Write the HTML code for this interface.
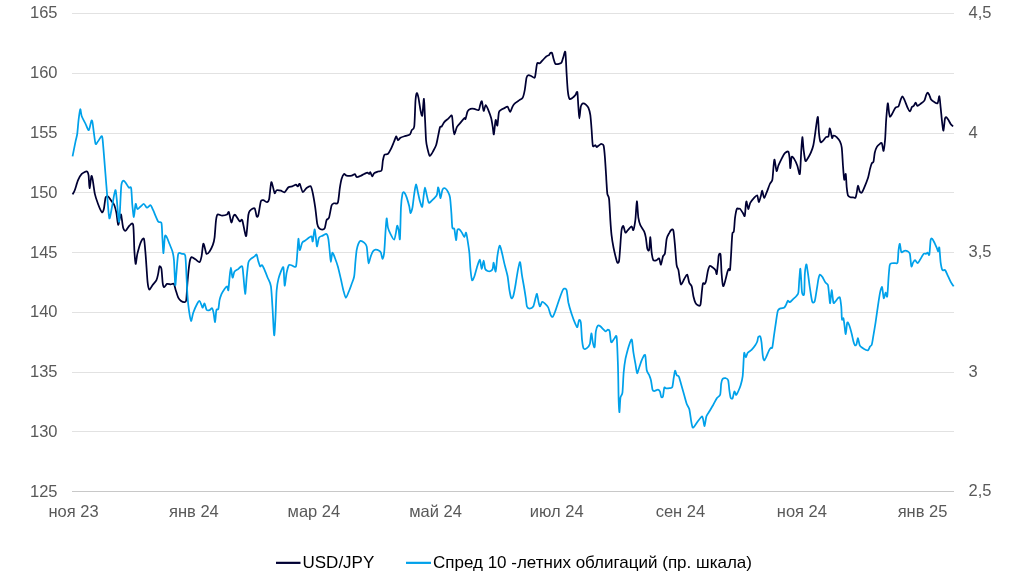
<!DOCTYPE html>
<html><head><meta charset="utf-8">
<style>
html,body{margin:0;padding:0;background:#fff;}
body{width:1024px;height:583px;overflow:hidden;position:relative;font-family:"Liberation Sans",sans-serif;}
svg{position:absolute;left:0;top:0;will-change:transform;}
text{font-family:"Liberation Sans",sans-serif;font-size:16.5px;fill:#595959;}
.lg{fill:#000;font-size:17px;}
</style></head><body>
<svg width="1024" height="583" viewBox="0 0 1024 583">
<g stroke="#e2e2e2" stroke-width="1" shape-rendering="crispEdges">
<line x1="72" x2="954" y1="13.5" y2="13.5"/>
<line x1="72" x2="954" y1="73.5" y2="73.5"/>
<line x1="72" x2="954" y1="133.5" y2="133.5"/>
<line x1="72" x2="954" y1="192.5" y2="192.5"/>
<line x1="72" x2="954" y1="252.5" y2="252.5"/>
<line x1="72" x2="954" y1="312.5" y2="312.5"/>
<line x1="72" x2="954" y1="372.5" y2="372.5"/>
<line x1="72" x2="954" y1="431.5" y2="431.5"/>
</g>
<line x1="72" x2="954" y1="491.5" y2="491.5" stroke="#c8c8c8" stroke-width="1" shape-rendering="crispEdges"/>
<g text-anchor="end">
<text x="57.5" y="18.3">165</text>
<text x="57.5" y="78.1">160</text>
<text x="57.5" y="137.8">155</text>
<text x="57.5" y="197.6">150</text>
<text x="57.5" y="257.5">145</text>
<text x="57.5" y="317.1">140</text>
<text x="57.5" y="376.9">135</text>
<text x="57.5" y="436.6">130</text>
<text x="57.5" y="496.5">125</text>
</g>
<g>
<text x="968.6" y="18">4,5</text>
<text x="968.6" y="137.5">4</text>
<text x="968.6" y="257.2">3,5</text>
<text x="968.6" y="376.6">3</text>
<text x="968.6" y="496.2">2,5</text>
</g>
<g text-anchor="middle">
<text x="73.6" y="517.1">ноя 23</text>
<text x="193.9" y="517.1">янв 24</text>
<text x="313.9" y="517.1">мар 24</text>
<text x="435.6" y="517.1">май 24</text>
<text x="556.75" y="517.1">июл 24</text>
<text x="680.4" y="517.1">сен 24</text>
<text x="801.9" y="517.1">ноя 24</text>
<text x="922.5" y="517.1">янв 25</text>
</g>
<path transform="translate(0.25,0)" fill="none" stroke="#000033" stroke-width="1.75" stroke-linejoin="round" stroke-linecap="butt" d="M72.3,194.4C72.6,193.9 73.8,192.0 74.5,190.2C75.2,188.4 76.9,182.3 77.8,180.2C78.7,178.1 80.4,175.0 81.5,173.9C82.6,172.8 85.6,171.2 86.5,171.4C87.4,171.6 87.9,173.0 88.3,175.2C88.7,177.4 88.9,188.0 89.3,188.2C89.7,188.4 90.7,177.6 91.1,176.4C91.5,175.2 91.8,176.6 92.3,178.9C92.8,181.2 93.9,190.6 94.6,193.9C95.3,197.2 96.9,201.6 97.8,204C98.7,206.4 100.8,211.5 101.6,212.2C102.4,212.8 103.1,210.9 103.6,209C104.1,207.1 104.8,199.3 105.3,197.7C105.8,196.1 107.0,196.0 107.8,196.5C108.6,197.0 110.8,200.4 111.6,201.5C112.4,202.6 113.5,203.7 114.1,205.2C114.7,206.7 115.6,210.2 116.1,212.7C116.6,215.2 117.4,224.2 117.9,224.8C118.4,225.5 119.2,219.0 119.6,217.7C120.0,216.4 120.5,213.4 120.9,214.7C121.3,216.0 122.3,225.7 122.9,227.8C123.5,229.9 124.6,231.1 125.4,230.8C126.2,230.5 128.1,226.6 129.1,225.8C130.1,225.0 132.2,221.6 132.9,224.8C133.6,228.0 133.8,245.0 134.1,250.1C134.4,255.2 135.0,263.4 135.4,263.9C135.8,264.4 136.4,256.7 137.1,253.9C137.8,251.1 139.5,244.6 140.4,242.6C141.3,240.6 143.0,237.2 143.7,238.8C144.3,240.4 144.9,249.4 145.4,255.1C145.9,260.8 146.9,278.2 147.4,282.7C147.9,287.2 148.6,289.4 149.2,289.7C149.8,290.0 151.3,286.4 152.2,285.2C153.1,284.0 155.5,281.7 156.2,280.2C156.9,278.7 157.5,275.7 157.9,273.9C158.3,272.1 158.8,267.0 159.2,266.4C159.6,265.8 160.8,266.8 161.2,268.9C161.6,271.0 162.1,280.3 162.4,282.7C162.7,285.1 163.1,287.0 163.7,287.2C164.3,287.4 165.8,284.3 166.7,283.9C167.6,283.5 169.6,284.4 170.5,284.4C171.4,284.4 173.0,283.1 173.7,283.9C174.3,284.7 174.9,288.4 175.5,290.2C176.1,292.0 177.3,296.3 178,297.7C178.7,299.1 179.7,300.1 180.5,300.7C181.3,301.3 183.5,302.3 184.2,302.2C184.9,302.1 185.6,302.7 186,300.2C186.4,297.7 186.8,287.6 187.2,282.7C187.6,277.8 188.8,265.9 189.3,262.6C189.8,259.3 190.5,257.5 191.3,257.1C192.1,256.7 194.5,259.0 195.5,259.6C196.5,260.2 198.5,262.5 199.3,262.1C200.1,261.7 200.8,258.8 201.3,256.4C201.8,254.0 202.5,244.8 203,243.8C203.5,242.8 204.4,247.5 204.8,248.8C205.2,250.1 205.7,253.6 206.3,253.9C206.9,254.2 208.5,252.5 209.3,251.4C210.1,250.3 211.8,246.9 212.5,245.1C213.2,243.3 213.9,240.9 214.3,237.6C214.7,234.3 215.4,223.0 215.8,220C216.2,217.0 216.5,215.1 217.3,214.5C218.1,213.9 220.6,215.5 221.8,215.5C223.0,215.5 225.9,215.0 226.8,214.5C227.7,214.0 228.0,211.0 228.6,212C229.2,213.0 230.5,221.9 231.1,222.5C231.7,223.1 232.6,217.3 233.1,216.3C233.6,215.3 234.3,214.3 235.1,215C235.9,215.7 238.5,220.7 239.4,221.3C240.3,222.0 241.2,218.7 241.9,220C242.6,221.3 243.9,229.3 244.4,231.3C244.9,233.3 245.6,237.7 246.1,235.6C246.6,233.5 247.6,218.3 248.1,215C248.6,211.7 249.1,211.4 249.9,210.5C250.7,209.6 253.6,207.5 254.4,208.3C255.2,209.1 255.9,215.4 256.4,216.3C256.9,217.2 257.6,216.9 258.1,215C258.6,213.1 260.0,203.2 260.6,201.3C261.2,199.4 262.3,200.1 263.1,200.2C263.9,200.3 266.1,202.4 266.9,202.2C267.7,202.0 268.4,201.5 268.9,199C269.4,196.5 270.4,184.4 270.9,182.7C271.4,181.0 271.9,184.3 272.4,185.7C272.9,187.1 273.9,192.6 274.4,193.2C274.9,193.8 275.6,190.5 276.4,190.2C277.2,189.9 279.7,190.4 280.7,190.7C281.7,191.0 283.4,192.7 284.4,192.2C285.4,191.7 287.2,188.0 288.2,187.2C289.2,186.4 291.0,186.7 292,186.4C293.0,186.1 295.0,184.7 295.7,184.7C296.4,184.7 297.0,186.5 297.5,186.4C298.0,186.3 298.9,183.2 299.5,183.9C300.1,184.6 301.6,191.5 302.5,192C303.4,192.5 305.3,188.7 306.3,188C307.3,187.3 309.7,185.7 310.5,186.3C311.3,187.0 311.9,190.2 312.5,193C313.1,195.8 314.4,203.6 315,207.6C315.6,211.6 316.5,221.2 317,223.9C317.5,226.6 318.2,227.4 318.8,228.1C319.4,228.8 321.3,229.6 322,229.6C322.7,229.6 323.9,229.3 324.5,228.1C325.1,226.9 325.7,221.5 326.3,220.1C326.9,218.7 328.2,219.5 328.8,217.6C329.4,215.7 330.7,207.5 331.3,205.6C331.9,203.7 333.0,203.7 333.8,203.3C334.6,202.9 336.8,204.6 337.6,202.6C338.4,200.6 339.1,190.9 339.6,187.8C340.1,184.7 340.8,180.8 341.3,179C341.8,177.2 343.2,174.4 343.8,174C344.4,173.6 345.3,175.5 346.3,175.7C347.3,175.9 350.3,175.9 351.4,175.7C352.5,175.5 354.0,173.8 354.6,174C355.2,174.2 355.7,176.7 356.4,177C357.1,177.3 359.1,176.4 360.1,176C361.1,175.6 363.0,174.4 363.9,174C364.8,173.6 366.5,172.7 367.1,172.7C367.8,172.7 368.5,174.1 368.9,174C369.3,173.9 369.7,171.9 370.1,172.2C370.5,172.5 371.4,176.4 371.9,176.5C372.4,176.6 373.1,173.8 373.9,173.2C374.7,172.5 376.7,171.9 377.7,171.5C378.7,171.1 380.8,171.7 381.4,170.2C382.0,168.7 382.3,162.2 382.7,160.2C383.1,158.2 383.6,155.5 384.2,154.7C384.8,153.9 386.9,154.7 387.7,153.9C388.5,153.1 389.9,150.5 390.7,148.9C391.5,147.3 393.2,143.0 393.9,141.4C394.6,139.8 395.4,136.6 395.9,136.4C396.4,136.2 397.1,140.0 397.7,140.2C398.3,140.4 399.2,138.3 400.2,137.7C401.2,137.1 404.0,136.3 405.2,135.9C406.4,135.5 408.9,135.2 409.7,134.4C410.5,133.6 410.9,131.1 411.5,130.1C412.1,129.1 413.5,130.1 414,126.4C414.5,122.7 414.9,105.6 415.2,101.3C415.5,97.0 416.1,93.6 416.5,93.1C416.9,92.6 417.7,95.4 418.2,97.6C418.7,99.8 419.7,107.8 420.2,110.1C420.7,112.4 421.5,117.1 422,115.6C422.5,114.1 423.3,98.5 423.7,98.8C424.1,99.1 424.4,112.2 424.7,117.6C425.0,123.0 425.5,136.1 425.8,140.2C426.1,144.3 426.8,146.9 427.3,148.9C427.8,150.9 428.8,155.6 429.5,155.9C430.2,156.2 432.0,152.9 432.8,151.4C433.6,149.9 435.4,146.6 436,144.7C436.6,142.8 437.3,138.7 437.8,136.4C438.3,134.1 439.3,128.4 439.8,127.1C440.3,125.8 441.0,127.1 441.5,126.4C442.0,125.8 443.2,123.1 444,122.1C444.8,121.1 446.8,119.7 447.8,118.9C448.8,118.1 451.0,114.6 451.6,115.6C452.2,116.6 452.5,124.0 452.8,126.4C453.1,128.8 453.6,134.3 454.1,134.4C454.6,134.5 455.8,128.6 456.6,127.1C457.4,125.6 459.3,123.8 460.3,122.6C461.3,121.4 463.5,118.6 464.1,118.1C464.8,117.6 464.9,119.8 465.3,118.9C465.7,118.0 466.7,112.7 467.3,111.4C467.9,110.1 469.4,109.1 470.3,108.8C471.2,108.5 473.0,108.6 474.1,108.8C475.2,109.0 477.6,110.6 478.4,110.1C479.2,109.6 479.5,106.2 479.9,105.1C480.3,104.0 481.1,100.5 481.6,101.3C482.1,102.1 482.9,110.4 483.4,110.9C483.9,111.4 484.8,105.3 485.4,105.1C486.0,104.9 487.2,107.9 487.9,109.6C488.6,111.3 490.3,115.9 490.9,118.1C491.5,120.3 492.0,124.3 492.4,126.4C492.8,128.5 493.2,135.2 493.6,134.4C494.0,133.6 494.9,121.2 495.4,120.1C495.9,119.0 496.7,126.6 497.1,125.6C497.5,124.6 498.2,114.6 498.6,112.6C499.0,110.6 499.7,110.7 500.4,110.1C501.1,109.5 503.3,108.5 504.2,108.1C505.1,107.7 506.7,106.3 507.4,106.8C508.1,107.3 509.2,112.0 509.9,111.9C510.5,111.8 511.8,107.4 512.4,106.3C513.0,105.2 514.0,103.9 514.9,103.1C515.8,102.3 518.2,100.8 519.2,100.1C520.2,99.4 521.8,98.9 522.5,97.6C523.2,96.3 524.0,92.7 524.5,90.1C525.0,87.5 525.8,79.5 526.3,77.6C526.8,75.6 527.6,75.3 528.3,75.1C528.9,74.9 530.5,76.0 531.3,76.3C532.1,76.6 533.9,78.4 534.5,77.6C535.1,76.8 535.5,72.0 535.8,70.1C536.1,68.2 536.5,64.0 537,63.1C537.5,62.2 538.8,63.7 539.5,63.3C540.2,62.9 541.6,61.0 542.5,60.1C543.4,59.2 545.5,56.9 546.3,56.3C547.1,55.6 548.3,55.5 548.8,55.1C549.3,54.7 549.7,53.3 550.1,53C550.5,52.7 551.4,52.2 551.8,53C552.2,53.8 552.9,57.4 553.3,58.8C553.7,60.2 554.4,63.1 555.1,63.8C555.8,64.5 558.0,64.0 558.8,63.8C559.6,63.6 560.7,63.5 561.3,62.6C561.9,61.7 562.6,58.5 563.1,57.1C563.6,55.7 564.7,50.0 565.1,52C565.5,54.0 566.0,67.5 566.3,72.6C566.6,77.7 567.2,88.0 567.6,91.4C568.0,94.8 568.6,98.1 569.3,98.9C569.9,99.7 571.8,98.1 572.6,97.6C573.4,97.1 574.5,95.8 575.1,95.1C575.7,94.4 576.7,90.6 577.1,92.1C577.5,93.6 577.8,103.0 578.1,106.4C578.4,109.8 578.8,118.4 579.1,118.4C579.4,118.4 580.1,108.4 580.6,106.4C581.1,104.5 582.0,103.6 582.6,103.4C583.2,103.2 584.9,104.0 585.6,104.6C586.3,105.2 587.5,106.3 588.1,107.7C588.7,109.1 589.7,112.3 590.1,115.2C590.5,118.1 591.1,126.2 591.4,130.2C591.7,134.2 592.1,143.8 592.6,145.7C593.1,147.6 594.7,145.0 595.2,145.2C595.7,145.4 595.9,147.0 596.4,147C596.9,147.0 598.2,145.6 598.9,145.2C599.5,144.8 600.8,143.9 601.4,144C602.0,144.1 603.0,143.9 603.4,145.7C603.8,147.5 604.4,153.9 604.7,157.8C605.0,161.7 605.7,173.1 605.9,176C606.1,178.9 605.9,177.7 606.1,180C606.3,182.3 606.7,191.4 607.1,193.8C607.5,196.2 608.4,195.4 608.8,198.8C609.2,202.2 609.8,215.4 610.1,220.1C610.4,224.8 610.9,231.6 611.3,235.2C611.7,238.8 612.7,244.8 613.3,247.7C613.9,250.6 615.1,255.8 615.6,257.7C616.1,259.6 616.7,262.3 617.1,262.7C617.5,263.1 618.4,263.3 618.8,261C619.2,258.7 619.8,249.2 620.1,245.2C620.4,241.2 620.9,232.6 621.3,230.1C621.7,227.6 622.6,225.6 623.1,225.9C623.6,226.2 624.5,232.1 625.1,232.6C625.7,233.1 626.8,230.9 627.6,230.1C628.4,229.3 630.7,226.4 631.4,226.4C632.1,226.4 632.6,230.9 633.1,230.1C633.6,229.3 634.6,223.8 635.1,220.1C635.6,216.4 636.2,201.6 636.6,201.3C637.0,201.0 637.6,214.5 638.1,217.6C638.6,220.7 639.3,223.3 640.1,225.1C640.9,226.9 643.2,229.8 643.9,231.4C644.6,233.0 645.2,235.4 645.6,237.7C646.0,240.0 646.7,247.3 647.1,248.9C647.5,250.5 648.5,251.2 648.9,249.7C649.3,248.2 649.8,236.8 650.1,237.2C650.4,237.6 651.0,249.7 651.4,252.7C651.8,255.7 652.5,259.2 653.1,260.2C653.8,261.2 655.6,260.4 656.4,260.2C657.2,260.0 658.3,257.8 658.9,258.4C659.5,259.0 660.2,265.0 660.7,264.7C661.2,264.4 662.2,257.9 662.7,256.4C663.2,254.9 664.2,255.5 664.7,253.2C665.2,250.9 665.9,241.5 666.4,238.9C666.9,236.3 668.2,234.3 668.9,233.1C669.5,231.9 670.8,229.9 671.4,229.6C672.0,229.3 672.8,228.9 673.2,230.9C673.6,232.9 674.3,240.7 674.7,245.2C675.1,249.7 675.9,261.9 676.4,265.2C676.9,268.4 677.8,268.2 678.2,270.2C678.6,272.1 679.3,278.3 679.7,280.2C680.1,282.1 680.4,284.7 681,284.5C681.6,284.3 683.2,280.3 684,279C684.8,277.7 686.4,274.2 687,274.7C687.6,275.2 688.4,281.2 689,282.7C689.6,284.2 691.0,284.7 691.5,286.5C692.0,288.3 692.7,294.4 693.2,296.5C693.7,298.6 694.6,301.7 695.2,302.8C695.8,303.9 697.1,305.0 697.7,305.3C698.4,305.6 699.7,306.4 700.2,304.8C700.7,303.2 701.2,295.6 701.5,292.8C701.8,290.0 702.3,284.6 702.7,283.5C703.1,282.4 704.1,284.4 704.5,284C704.9,283.6 705.6,282.0 706,280.2C706.4,278.4 707.3,272.0 707.8,270.2C708.3,268.4 708.9,266.3 709.5,266C710.1,265.7 712.0,267.2 712.8,267.7C713.6,268.2 714.8,269.4 715.3,270.2C715.8,271.0 716.2,275.0 716.5,274C716.8,273.0 717.5,265.1 717.8,262.7C718.1,260.3 718.2,256.2 718.5,255.2C718.8,254.2 719.9,252.4 720.3,254.7C720.7,257.0 721.0,268.6 721.3,272.7C721.6,276.8 722.3,284.9 722.8,286C723.3,287.1 724.2,283.4 724.8,281.5C725.4,279.6 726.8,273.1 727.3,271.5C727.8,269.9 728.2,269.2 728.5,269C728.8,268.8 729.5,271.5 729.8,269.7C730.1,267.9 730.5,259.9 730.8,255.2C731.1,250.5 731.7,237.0 732.1,233.9C732.5,230.8 733.2,233.5 733.6,231.4C734.0,229.3 734.4,220.5 734.8,217.6C735.2,214.7 736.1,209.9 736.6,208.8C737.1,207.7 738.2,208.8 738.6,208.8C739.0,208.8 739.5,208.5 740,209C740.5,209.5 741.9,211.9 742.5,212.8C743.1,213.7 744.1,217.0 744.5,216C744.9,215.0 745.3,207.2 745.5,205.3C745.7,203.4 746.0,201.0 746.3,201.5C746.6,202.0 747.5,208.8 748,209C748.5,209.2 749.2,204.3 750,202.8C750.8,201.3 752.9,198.8 753.8,197.8C754.7,196.8 756.4,194.8 757,195.3C757.6,195.8 758.0,201.8 758.5,202C759.0,202.2 760.0,198.0 760.5,196.5C761.0,195.0 761.6,190.5 762,190.7C762.4,190.9 763.2,197.5 763.8,197.8C764.4,198.1 765.5,194.5 766.3,192.7C767.1,190.9 768.8,185.7 769.6,184C770.4,182.3 771.6,182.0 772.1,179.7C772.6,177.4 773.0,169.0 773.3,166.4C773.6,163.8 773.9,159.1 774.3,159.7C774.7,160.3 775.8,170.2 776.3,171C776.8,171.8 777.5,167.3 778.1,165.7C778.8,164.1 780.5,160.5 781.3,158.9C782.1,157.3 783.7,154.1 784.6,153.2C785.5,152.3 787.5,151.1 788.1,151.7C788.7,152.3 789.0,155.6 789.3,157.7C789.6,159.8 789.8,168.3 790.1,168.2C790.4,168.1 790.9,158.1 791.4,156.9C791.9,155.7 793.2,157.8 793.9,158.9C794.6,160.0 796.4,163.7 797.1,165.7C797.8,167.7 799.1,175.7 799.6,174C800.1,172.3 800.6,157.5 800.9,152.7C801.2,147.9 801.8,137.4 802.1,137.1C802.4,136.8 803.0,147.1 803.4,150.2C803.8,153.3 804.6,159.9 805.1,160.9C805.6,161.9 806.9,159.3 807.6,158.2C808.3,157.1 809.9,154.4 810.6,152.7C811.3,151.0 812.5,148.0 813.1,145.2C813.7,142.4 814.8,134.3 815.2,131.4C815.6,128.5 816.1,124.5 816.4,122.6C816.7,120.7 817.4,115.8 817.7,117.1C818.0,118.4 818.4,129.4 818.7,132.6C819.0,135.8 819.7,140.8 820.2,141.9C820.7,143.0 822.0,141.5 822.7,140.9C823.4,140.3 825.0,137.7 825.7,137.1C826.4,136.5 827.7,137.5 828.2,136.4C828.7,135.3 829.1,128.9 829.4,128.4C829.7,127.9 830.4,131.3 830.7,132.6C831.0,133.9 831.6,137.7 831.9,138.1C832.2,138.5 832.6,135.7 833.2,135.6C833.8,135.5 835.6,136.3 836.4,137.1C837.2,137.9 839.0,140.0 839.7,141.4C840.4,142.8 841.1,144.6 841.5,147.7C841.9,150.8 842.4,161.0 842.7,165.2C843.0,169.4 843.6,178.6 844,179.7C844.4,180.8 845.2,173.0 845.5,174C845.8,175.0 846.2,184.9 846.5,187.7C846.8,190.5 847.2,194.1 847.7,195.3C848.2,196.5 849.5,197.0 850.2,197.3C850.9,197.6 852.6,197.2 853.2,197.3C853.9,197.4 854.8,198.4 855.2,197.8C855.6,197.2 856.2,194.3 856.5,192.7C856.8,191.1 857.3,185.9 857.7,185.7C858.1,185.5 859.0,190.6 859.5,191.5C860.0,192.4 860.9,193.2 861.5,192.7C862.1,192.2 863.2,189.6 864,187.7C864.8,185.8 867.0,180.1 867.8,177.7C868.6,175.3 869.3,170.8 869.8,168.9C870.3,167.0 871.0,164.4 871.5,163.4C872.0,162.4 872.9,162.8 873.3,161.4C873.7,160.0 874.1,154.5 874.5,152.7C874.9,150.9 875.9,148.3 876.5,147.2C877.1,146.1 878.4,144.9 879,144.4C879.6,143.9 880.9,142.3 881.5,143.1C882.1,143.9 882.9,151.3 883.3,150.9C883.7,150.5 884.4,144.3 884.8,140.1C885.2,135.9 885.6,123.6 886,118.8C886.4,114.0 887.1,104.1 887.5,103.3C887.9,102.5 888.5,110.8 888.8,112.6C889.1,114.4 889.3,116.7 889.8,116.8C890.3,116.9 891.6,114.3 892.3,113.1C893.0,111.9 894.5,108.5 895.3,107.6C896.1,106.7 897.6,107.3 898.3,106.3C898.9,105.3 899.8,101.4 900.3,100.1C900.8,98.8 901.6,96.4 902.1,96.3C902.6,96.2 903.4,98.1 904.1,99.6C904.8,101.1 906.6,106.1 907.3,107.6C908.0,109.1 909.2,111.4 909.8,111.3C910.4,111.2 911.1,107.8 911.6,107.1C912.1,106.4 913.1,106.4 913.6,105.8C914.1,105.2 914.9,102.6 915.4,102.6C915.9,102.6 916.5,105.6 917.1,105.8C917.8,106.0 919.5,104.5 920.4,103.8C921.3,103.1 923.4,101.7 924.1,100.6C924.8,99.5 925.5,96.2 925.9,95.1C926.3,94.0 927.0,92.5 927.4,92.5C927.8,92.5 928.6,94.2 929.1,95.1C929.6,96.0 930.2,98.7 930.9,99.6C931.5,100.5 933.3,101.6 934.1,102.1C934.9,102.6 936.8,103.9 937.4,103.1C938.0,102.3 938.7,95.7 939.1,96.3C939.5,96.9 940.0,104.2 940.4,107.6C940.8,111.0 941.5,119.6 941.9,122.6C942.3,125.6 942.8,131.1 943.2,130.6C943.6,130.1 944.3,120.6 944.7,118.8C945.1,117.0 945.5,117.0 945.9,117.1C946.3,117.2 947.3,118.7 947.9,119.6C948.5,120.5 949.8,123.0 950.4,123.9C951.0,124.8 952.6,126.1 952.9,126.4"/>
<path transform="translate(0.25,0)" fill="none" stroke="#00a1ea" stroke-width="1.75" stroke-linejoin="round" stroke-linecap="butt" d="M72.3,156.4C72.7,154.4 74.7,144.2 75.3,141.3C75.9,138.4 76.6,136.6 77,133.8C77.4,131.0 77.9,123.3 78.3,120.1C78.7,116.9 79.6,109.8 80,109.3C80.4,108.8 80.8,114.4 81.5,116.3C82.2,118.2 84.4,122.0 85.3,123.8C86.2,125.6 87.7,130.5 88.5,130.1C89.3,129.7 90.6,121.8 91.1,120.8C91.6,119.8 92.0,121.1 92.3,122.6C92.6,124.1 93.2,129.8 93.6,132.6C94.0,135.4 94.8,142.7 95.3,143.8C95.8,144.9 97.0,142.3 97.8,141.3C98.6,140.3 100.5,136.6 101.1,136.3C101.7,136.0 101.9,135.7 102.3,138.8C102.7,141.9 103.6,154.1 104.1,160.1C104.6,166.1 105.5,178.0 106.1,185.2C106.7,192.4 108.1,211.0 108.6,215.2C109.1,219.4 109.2,218.7 109.6,217.7C110.0,216.7 111.0,210.8 111.6,207.7C112.2,204.6 113.6,196.2 114.1,193.9C114.6,191.6 115.1,189.4 115.4,190.2C115.7,191.0 116.2,196.1 116.6,200.2C117.0,204.3 118.2,219.9 118.6,221.5C119.0,223.1 119.3,217.4 119.6,212.7C119.9,208.0 120.6,189.4 121.1,185.2C121.6,181.0 122.5,181.0 123.1,180.7C123.7,180.4 124.7,181.8 125.4,182.7C126.1,183.6 127.9,187.0 128.6,187.7C129.3,188.4 130.4,185.9 130.9,188.2C131.4,190.5 131.7,201.5 132.1,205.2C132.5,208.9 133.2,217.2 133.6,217C134.0,216.8 134.9,205.0 135.4,204C135.9,203.0 136.4,208.7 137.1,209C137.8,209.3 139.5,207.2 140.4,206.5C141.3,205.8 142.9,203.8 143.7,204C144.5,204.2 145.8,207.5 146.7,207.7C147.6,207.9 149.6,204.9 150.4,205.2C151.2,205.5 151.9,208.1 152.9,210.2C153.9,212.3 156.8,219.8 157.9,221.5C159.0,223.2 160.6,220.8 161.2,223C161.8,225.2 161.9,234.9 162.2,238.8C162.5,242.7 162.9,253.4 163.2,253.1C163.5,252.8 164.2,238.3 164.7,236.3C165.2,234.3 166.1,236.6 166.7,237.6C167.3,238.6 168.5,242.0 169.2,243.8C169.9,245.6 171.6,249.3 172.2,251.4C172.8,253.5 173.3,255.7 173.7,260.1C174.1,264.5 174.7,283.6 175,285.2C175.3,286.8 175.8,276.7 176.2,272.6C176.6,268.5 177.3,256.3 178,253.9C178.7,251.5 180.8,253.7 181.7,253.9C182.6,254.1 184.4,252.8 185,255.6C185.6,258.4 185.9,270.1 186.2,275.2C186.5,280.3 186.9,290.6 187.2,295.2C187.5,299.8 188.2,306.8 188.7,310.2C189.2,313.6 190.2,320.7 190.8,321C191.4,321.3 192.2,314.9 193,312.7C193.8,310.5 196.0,305.5 196.8,304C197.6,302.5 198.7,300.8 199.3,301C199.9,301.2 200.9,304.3 201.3,305.2C201.7,306.1 202.1,307.9 202.5,307.7C202.9,307.5 203.8,303.2 204.3,303.5C204.8,303.8 205.7,308.8 206.3,309.7C207.0,310.6 208.6,310.4 209.3,310.2C210.0,310.0 211.3,307.9 211.8,308.2C212.3,308.5 212.9,310.9 213.3,312.7C213.7,314.5 214.4,322.3 214.8,322C215.2,321.7 215.7,311.9 216.1,310.2C216.5,308.5 217.7,310.3 218.1,309C218.5,307.7 218.9,302.2 219.3,300.2C219.7,298.2 220.7,295.4 221.3,293.9C222.0,292.4 223.6,289.9 224.3,288.9C225.0,287.9 226.3,286.2 226.8,286.4C227.3,286.6 227.8,291.3 228.1,290.2C228.4,289.1 229.0,280.6 229.3,277.7C229.6,274.8 230.2,267.6 230.6,267.6C231.0,267.6 231.8,277.2 232.3,277.7C232.8,278.2 233.5,272.5 234.3,271.4C235.1,270.3 237.1,269.5 238.1,268.9C239.1,268.2 241.2,265.6 241.9,266.4C242.6,267.2 242.7,271.6 243.1,275.2C243.5,278.8 244.5,293.6 244.9,293.9C245.3,294.2 246.0,281.8 246.4,277.7C246.8,273.6 247.6,265.0 248.1,262.6C248.6,260.2 249.8,259.7 250.6,258.9C251.4,258.1 253.6,257.0 254.4,256.4C255.2,255.8 255.9,253.9 256.4,254.6C256.9,255.2 257.6,259.9 258.1,261.4C258.6,262.9 259.4,265.9 259.9,266.4C260.4,266.9 261.3,264.6 261.9,265.1C262.5,265.6 263.7,268.5 264.4,270.1C265.1,271.7 266.6,275.6 267.4,277.7C268.2,279.8 270.1,282.2 270.7,286.4C271.3,290.6 272.0,303.8 272.4,310.2C272.8,316.6 273.5,334.3 273.9,335.3C274.3,336.3 274.9,323.6 275.2,317.7C275.5,311.8 276.0,295.2 276.4,290.2C276.8,285.2 277.6,281.3 278.2,278.9C278.8,276.5 280.1,272.9 280.7,271.4C281.3,269.9 282.7,265.7 283.2,267.6C283.7,269.5 284.0,285.1 284.4,285.7C284.8,286.3 285.8,275.3 286.4,272.6C287.0,269.9 288.0,266.0 288.7,265.1C289.4,264.2 291.1,265.4 292,265.6C292.9,265.8 295.1,267.9 295.7,266.4C296.3,264.9 296.7,257.5 297,253.9C297.3,250.3 297.9,239.3 298.2,238.8C298.5,238.3 299.0,249.6 299.5,250.1C300.0,250.6 301.3,243.8 302,242.6C302.7,241.4 304.1,241.2 305,240.6C305.9,239.9 308.0,238.1 308.8,237.6C309.6,237.1 310.8,235.9 311.3,236.4C311.8,236.9 312.1,242.3 312.5,241.4C312.9,240.5 313.9,229.7 314.3,229.4C314.7,229.1 315.5,236.7 315.8,238.9C316.1,241.1 316.4,246.6 316.8,246.4C317.2,246.2 318.1,239.0 318.8,237.6C319.5,236.2 321.5,236.1 322.5,235.6C323.5,235.1 325.6,233.5 326.3,233.9C327.0,234.3 327.7,236.5 328.1,238.9C328.5,241.3 329.3,249.7 329.6,252.7C329.9,255.7 330.3,261.9 330.6,261.9C330.9,261.9 331.6,253.2 332.1,252.7C332.6,252.2 333.9,255.9 334.6,257.7C335.3,259.5 336.8,263.6 337.6,266.4C338.4,269.2 339.9,275.9 340.6,279C341.3,282.1 342.5,287.8 343.1,290.2C343.8,292.6 344.9,297.7 345.6,297.8C346.3,297.9 348.0,292.8 348.8,291C349.6,289.2 350.7,285.9 351.4,284C352.1,282.1 353.4,279.3 353.9,276.5C354.4,273.7 354.8,266.1 355.1,262.7C355.4,259.3 356.0,252.6 356.4,250.2C356.8,247.8 357.6,245.1 358.1,243.9C358.6,242.7 359.3,241.1 360.1,240.9C360.9,240.7 363.1,241.9 363.9,242.6C364.7,243.3 365.9,244.4 366.4,246.4C366.9,248.4 367.3,255.5 367.6,257.7C367.9,259.9 368.1,263.4 368.4,263.4C368.7,263.4 369.6,259.3 370.1,257.7C370.6,256.1 371.9,252.4 372.6,251.4C373.3,250.4 374.4,249.8 375.2,249.7C376.0,249.6 378.2,250.3 378.9,250.7C379.6,251.1 380.3,251.6 380.7,252.7C381.1,253.8 381.8,258.9 382.2,258.9C382.6,258.9 383.5,256.1 383.9,252.7C384.3,249.3 384.9,237.1 385.2,232.6C385.5,228.1 386.1,219.0 386.4,218.3C386.7,217.7 387.2,225.6 387.7,227.6C388.2,229.6 389.4,232.3 390.2,233.9C391.0,235.5 393.2,239.8 393.9,239.6C394.6,239.4 395.3,234.4 395.7,232.6C396.1,230.8 396.5,225.9 396.9,225.6C397.3,225.3 398.0,228.4 398.4,230.1C398.8,231.8 399.4,241.8 399.7,238.9C400.0,236.0 400.4,213.5 400.7,207.6C401.0,201.7 401.8,195.8 402.2,193.8C402.6,191.8 403.4,192.0 404,192.5C404.6,193.0 405.9,195.8 406.5,197.6C407.1,199.4 408.5,204.3 409,206.3C409.5,208.3 409.8,212.9 410.2,213.1C410.6,213.3 411.7,210.1 412.2,207.6C412.7,205.1 413.5,196.8 414,193.8C414.5,190.8 415.2,184.7 415.7,184.5C416.2,184.3 417.2,190.3 417.7,192.5C418.2,194.7 419.1,199.4 419.7,201.3C420.3,203.2 421.5,207.6 422,206.8C422.5,206.0 423.1,197.6 423.5,195.1C423.9,192.6 424.3,187.5 424.7,187.5C425.1,187.5 426.0,193.1 426.5,195.1C427.0,197.1 427.9,201.9 428.5,202.6C429.1,203.3 430.5,201.6 431.5,200.6C432.5,199.6 435.7,196.8 436.5,195.1C437.3,193.4 437.5,188.0 437.8,187.5C438.1,187.0 438.7,189.9 439,191.3C439.3,192.7 439.9,198.3 440.3,198.1C440.7,197.9 441.7,190.8 442.3,189.5C442.9,188.2 444.1,188.0 444.8,188.3C445.5,188.6 447.2,190.8 447.8,192C448.4,193.2 449.4,194.9 449.8,197.6C450.2,200.3 450.8,208.7 451.1,212.6C451.4,216.5 451.7,225.5 452.1,227.6C452.5,229.7 453.6,227.3 454.1,228.9C454.6,230.5 455.4,239.9 455.8,240.1C456.2,240.3 456.7,231.5 457.1,230.1C457.5,228.7 458.5,229.1 459.1,229.4C459.7,229.7 461.0,231.6 461.6,232.6C462.2,233.6 463.6,237.1 464.1,237.1C464.6,237.1 465.4,232.2 465.8,232.6C466.2,233.0 466.9,237.5 467.3,240.1C467.7,242.7 468.7,248.8 469.1,252.7C469.5,256.6 469.9,266.6 470.3,270.2C470.7,273.8 471.3,279.4 471.8,280.2C472.3,281.0 473.5,278.1 474.1,276.5C474.7,274.9 475.9,269.9 476.6,267.7C477.3,265.5 479.0,259.5 479.6,259.7C480.2,259.9 480.9,268.8 481.4,268.9C481.9,269.0 482.9,260.7 483.4,260.7C483.9,260.7 484.4,267.6 484.9,268.9C485.4,270.2 486.7,270.7 487.4,271C488.1,271.3 489.8,271.3 490.4,271C491.0,270.7 492.0,270.0 492.4,268.9C492.8,267.8 493.0,262.4 493.4,262.7C493.8,263.0 494.9,272.3 495.4,271.5C495.9,270.7 496.6,259.8 497.1,256.4C497.6,253.0 498.8,246.2 499.4,245.7C500.0,245.2 501.1,250.3 501.7,252.7C502.3,255.1 503.5,260.8 504.2,263.9C504.9,267.0 506.8,273.1 507.4,276.5C508.0,279.9 508.7,287.4 509.2,290.2C509.7,293.0 510.4,297.0 510.9,297.8C511.4,298.6 512.3,298.3 512.9,296.5C513.5,294.7 514.8,287.6 515.4,284C516.0,280.4 517.3,271.7 517.9,268.9C518.5,266.1 519.4,261.4 519.9,262.2C520.4,263.0 521.2,272.0 521.7,275.2C522.2,278.4 523.2,283.6 523.7,286.5C524.2,289.4 525.1,295.2 525.5,297.8C525.9,300.4 526.2,305.1 526.7,306.5C527.2,307.9 528.4,308.5 529.2,308.5C530.0,308.5 532.2,308.0 533,306.5C533.8,305.0 535.0,298.9 535.5,297.3C536.0,295.7 536.3,293.3 536.7,294C537.1,294.7 538.1,301.2 538.5,302.8C538.9,304.4 539.2,306.6 539.7,306.5C540.2,306.4 541.3,302.2 542,301.8C542.7,301.4 544.2,303.1 545,303.8C545.8,304.5 547.3,306.0 548,307.5C548.7,309.0 549.9,313.9 550.5,315.1C551.1,316.3 551.9,317.3 552.5,316.8C553.1,316.3 554.2,313.5 555,311.3C555.8,309.1 557.9,302.6 558.8,300C559.7,297.4 561.4,292.8 562,291.3C562.6,289.8 563.2,288.9 563.8,288.7C564.4,288.5 565.7,288.2 566.3,290C566.9,291.8 567.5,299.4 568.1,302.5C568.8,305.6 570.4,311.0 571.3,313.8C572.2,316.6 574.3,322.1 575.1,323.8C575.9,325.5 576.6,327.6 577.1,327.1C577.6,326.6 578.3,320.7 578.8,320.1C579.3,319.5 580.2,320.0 580.6,322.6C581.0,325.2 581.4,336.7 581.8,340.1C582.2,343.5 582.7,347.3 583.3,348.4C583.9,349.5 585.5,349.0 586.3,348.4C587.1,347.8 589.0,345.9 589.6,343.9C590.2,341.9 590.7,333.5 591.1,333.3C591.5,333.1 592.2,340.8 592.6,342.6C593.0,344.4 594.0,348.6 594.4,347.1C594.8,345.6 595.2,334.1 595.6,331.3C596.0,328.5 597.0,326.2 597.6,325.6C598.2,325.0 599.3,325.7 600.1,326.3C600.9,326.9 603.2,329.5 603.9,330.1C604.6,330.8 605.1,331.4 605.6,331.3C606.1,331.2 607.1,329.6 607.6,329.6C608.1,329.6 609.0,329.7 609.4,331.3C609.8,332.9 610.3,341.1 610.9,342.1C611.5,343.1 613.2,339.4 613.9,338.8C614.6,338.2 615.9,333.7 616.4,337.1C616.9,340.5 617.4,357.0 617.7,365.2C618.0,373.4 618.2,394.1 618.4,400.2C618.6,406.3 619.0,412.5 619.2,412.2C619.4,411.9 619.8,400.2 620.2,397.7C620.6,395.2 621.8,395.9 622.2,392.7C622.6,389.4 623.0,377.1 623.4,372.7C623.8,368.3 624.6,362.0 625.2,358.9C625.8,355.8 627.1,351.2 627.7,348.9C628.4,346.6 629.7,342.5 630.2,341.4C630.7,340.3 631.3,338.6 631.7,340.1C632.1,341.6 632.7,349.5 633.2,352.6C633.7,355.7 634.7,361.2 635.2,363.9C635.7,366.6 636.4,372.7 636.9,373.2C637.4,373.7 638.3,369.4 638.9,367.7C639.5,366.0 640.8,361.7 641.5,360.1C642.2,358.5 643.5,355.6 644,355.1C644.5,354.6 644.9,354.4 645.2,356.4C645.5,358.4 646.0,367.8 646.5,370.2C647.0,372.6 648.5,373.9 649,375.2C649.5,376.5 650.3,378.4 650.7,380.2C651.1,382.0 651.8,388.0 652.2,389.4C652.6,390.8 653.3,391.0 654,391C654.7,391.0 657.0,389.6 657.7,389.7C658.4,389.8 659.3,390.6 659.7,391.5C660.1,392.4 660.6,396.4 661,397C661.4,397.6 662.3,397.7 662.7,396.5C663.1,395.3 663.6,388.8 664,387.7C664.4,386.6 665.1,388.3 665.8,388.4C666.4,388.5 668.2,388.4 669,388.2C669.8,388.0 671.4,388.6 672,387.2C672.6,385.8 673.1,379.8 673.5,377.7C673.9,375.6 674.4,371.0 674.8,370.7C675.2,370.4 676.0,374.5 676.5,375.2C677.0,375.9 677.9,375.3 678.5,376.4C679.1,377.5 680.1,381.5 680.8,383.9C681.5,386.3 683.3,392.6 684,395.2C684.7,397.8 685.9,402.2 686.5,404C687.1,405.8 688.4,406.9 689,409C689.6,411.1 690.4,417.9 690.8,420.3C691.2,422.7 691.9,426.5 692.3,427.3C692.7,428.1 693.4,427.3 694.1,426.5C694.8,425.7 696.8,422.3 697.8,421C698.8,419.7 701.0,416.8 701.6,416.5C702.2,416.2 702.4,417.8 702.8,419C703.2,420.2 703.9,426.3 704.3,426C704.7,425.7 705.6,418.2 706.1,416.5C706.6,414.8 707.4,414.2 708.3,412.7C709.2,411.2 711.7,407.1 712.8,405.2C713.9,403.3 715.7,399.6 716.6,398.2C717.5,396.8 719.3,396.6 719.9,394.7C720.5,392.8 720.6,386.0 720.9,383.9C721.2,381.8 721.8,379.6 722.4,378.9C723.0,378.2 724.7,378.0 725.4,378.2C726.1,378.4 727.4,378.6 727.9,380.2C728.4,381.8 728.8,387.9 729.1,390.2C729.4,392.5 730.0,396.7 730.4,397.7C730.8,398.7 731.9,399.0 732.4,398.2C732.9,397.4 733.6,391.9 734.1,391.5C734.6,391.1 735.4,395.2 735.9,395.2C736.4,395.2 737.3,392.8 737.9,391.5C738.5,390.2 739.8,387.2 740.4,385.2C741.0,383.2 742.0,379.7 742.4,376.4C742.8,373.1 743.2,363.2 743.4,360.1C743.6,357.0 743.7,353.2 744,352.8C744.3,352.4 745.0,357.3 745.5,357.3C746.0,357.3 746.7,353.8 747.5,352.8C748.3,351.8 750.3,350.8 751.3,349.8C752.3,348.8 754.3,346.4 755,345.3C755.7,344.2 756.6,342.6 757,341.5C757.4,340.4 757.6,337.6 758,337C758.4,336.4 759.6,335.8 760,336.5C760.4,337.2 761.0,340.3 761.3,342.7C761.6,345.1 762.2,353.0 762.5,355.3C762.8,357.6 763.4,360.0 763.8,360.3C764.2,360.6 765.1,358.6 765.8,357.3C766.4,356.0 768.2,351.5 768.8,350.3C769.4,349.1 770.2,348.2 770.6,347.8C771.0,347.4 771.7,348.9 772.1,347.3C772.5,345.7 773.3,338.6 773.8,335.2C774.3,331.8 775.3,324.7 775.8,321.5C776.3,318.3 777.0,312.4 777.6,310.7C778.2,309.0 779.3,308.8 780.1,308.4C780.9,308.0 783.1,308.1 783.8,307.7C784.5,307.3 785.1,306.1 785.6,305.2C786.1,304.3 787.1,301.1 787.6,300.7C788.1,300.3 788.9,302.4 789.6,302.2C790.3,302.0 792.2,299.7 793.1,298.9C794.0,298.1 795.8,296.5 796.4,295.7C797.0,294.9 797.7,294.8 798.1,292.6C798.5,290.4 798.8,282.0 799.1,278.9C799.4,275.8 799.8,268.3 800.1,268.8C800.4,269.3 800.9,279.4 801.1,282.6C801.3,285.8 801.5,291.6 801.9,293.1C802.3,294.6 803.5,296.4 803.9,293.9C804.3,291.4 804.3,277.7 804.6,273.9C804.9,270.1 805.7,264.5 806.1,264.3C806.5,264.1 807.1,269.6 807.6,272.6C808.1,275.6 809.0,283.9 809.6,287.6C810.2,291.3 811.3,299.6 811.9,301.4C812.5,303.2 813.8,302.9 814.4,301.4C815.0,299.9 815.9,293.0 816.4,290.1C816.9,287.2 817.8,280.9 818.2,278.9C818.6,276.9 819.2,274.8 819.7,274.6C820.2,274.4 821.5,276.1 822.2,277.1C822.9,278.1 824.5,281.6 825.2,282.6C825.9,283.6 827.2,283.5 827.7,285.1C828.2,286.7 828.6,292.8 828.9,295.2C829.2,297.6 829.6,303.9 829.9,303.2C830.2,302.5 831.0,290.2 831.4,290.1C831.8,290.0 832.7,301.2 833.2,302.7C833.7,304.2 834.6,302.0 835.2,301.4C835.8,300.8 837.1,298.7 837.7,298.2C838.3,297.7 839.3,296.6 839.7,297.7C840.1,298.8 840.7,303.6 841,306.4C841.3,309.2 841.4,317.9 841.7,319.4C842.0,320.9 842.9,317.4 843.2,318.2C843.5,319.0 843.9,323.1 844.2,325.2C844.5,327.3 845.1,334.3 845.5,334C845.9,333.7 846.5,323.8 847,322.7C847.5,321.6 848.4,323.7 849,325.2C849.6,326.7 851.0,331.9 851.5,334C852.0,336.1 852.8,340.0 853.2,341.5C853.6,343.0 854.3,344.9 854.7,345.3C855.1,345.7 855.8,345.4 856.2,344.5C856.6,343.6 857.3,338.1 857.7,338.2C858.1,338.3 858.9,344.1 859.5,345.3C860.1,346.5 861.2,347.2 862,347.8C862.8,348.4 864.5,349.5 865.3,349.8C866.1,350.1 867.2,350.7 867.8,350.3C868.4,349.9 869.3,347.2 869.8,346.5C870.3,345.8 871.1,345.8 871.5,344.7C871.9,343.6 872.3,340.6 872.8,337.7C873.3,334.8 874.6,326.9 875.3,322.7C875.9,318.5 877.2,309.1 877.8,305.2C878.4,301.3 879.3,295.0 879.8,292.6C880.3,290.2 881.3,286.4 881.8,287.1C882.3,287.8 883.0,297.5 883.5,298.2C884.0,298.9 884.8,292.8 885.3,292.6C885.8,292.4 886.6,298.3 887,296.4C887.4,294.4 888.0,281.7 888.3,277.6C888.6,273.5 889.1,267.0 889.5,265.1C889.9,263.2 890.9,263.6 891.6,263.3C892.3,263.0 894.1,263.2 894.8,263.1C895.5,263.0 896.8,264.3 897.3,262.6C897.8,260.9 898.0,252.5 898.3,250.1C898.6,247.7 899.2,243.5 899.6,243.8C900.0,244.1 900.5,251.2 901.1,252.1C901.7,253.0 903.3,250.9 904.1,250.8C904.9,250.7 906.6,250.9 907.3,251.3C908.0,251.7 909.1,251.9 909.6,253.8C910.1,255.8 910.7,265.2 911.1,266.3C911.5,267.4 912.3,263.4 912.8,262.6C913.3,261.8 914.2,260.0 914.8,260.1C915.4,260.2 916.7,263.2 917.4,263.1C918.1,263.0 919.1,260.8 919.9,259.6C920.7,258.4 922.6,254.6 923.4,253.8C924.2,253.0 925.4,254.0 925.9,253.8C926.4,253.6 927.0,252.5 927.4,252.6C927.8,252.7 928.7,256.2 929.1,254.6C929.5,253.0 930.0,242.1 930.4,240C930.8,237.9 931.4,238.5 931.9,238.8C932.4,239.1 933.5,241.3 934.1,242.5C934.7,243.7 936.1,247.0 936.6,248.1C937.1,249.2 937.6,251.4 937.9,251.3C938.2,251.2 938.8,246.1 939.1,247.6C939.4,249.1 940.0,259.7 940.4,262.6C940.8,265.5 941.6,269.1 942.2,270.1C942.8,271.1 944.2,269.3 944.9,270.1C945.6,270.9 947.1,274.8 947.9,276.4C948.7,278.0 950.2,281.3 950.9,282.6C951.6,283.9 953.1,285.9 953.4,286.4"/>
<line x1="276" x2="300.5" y1="562.85" y2="562.85" stroke="#000033" stroke-width="2.2"/>
<text class="lg" x="302.5" y="568">USD/JPY</text>
<line x1="406" x2="431" y1="562.85" y2="562.85" stroke="#00a1ea" stroke-width="2.2"/>
<text class="lg" x="433" y="568">Спред 10 -летних облигаций (пр. шкала)</text>
</svg>
</body></html>
